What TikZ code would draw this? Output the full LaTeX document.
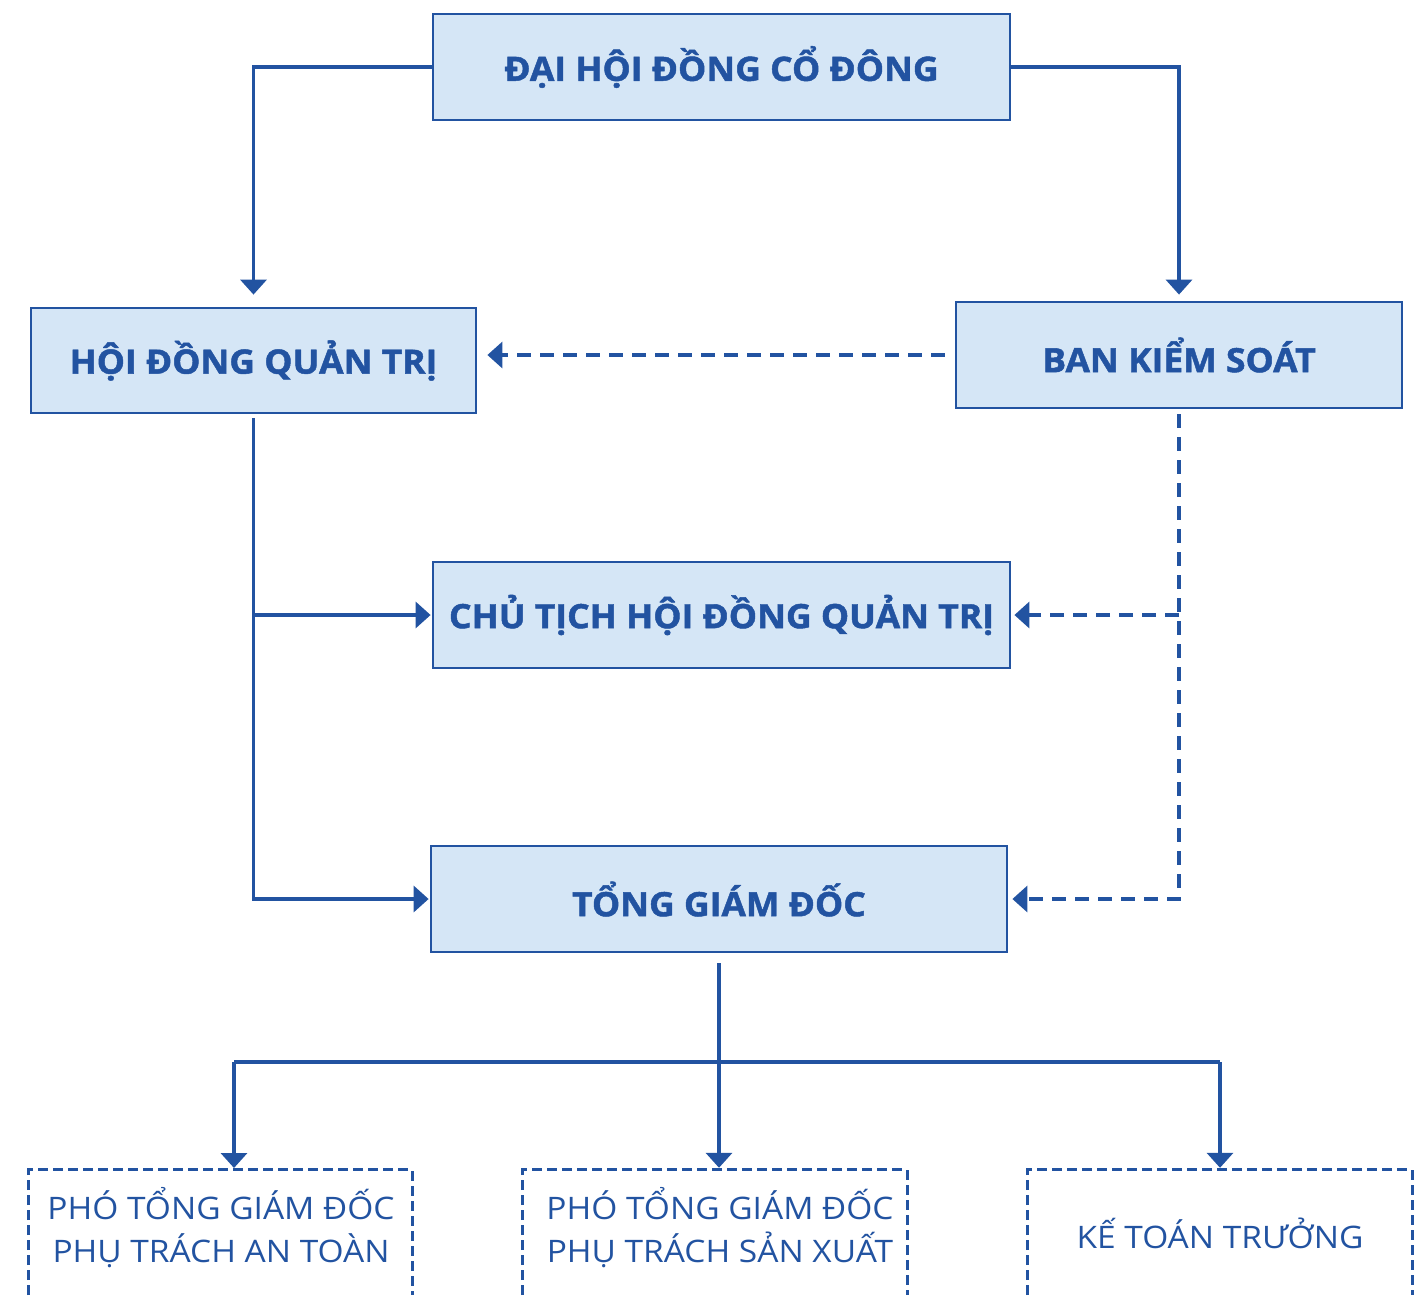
\documentclass[tikz,border=0pt]{standalone}
\usepackage{fontspec}
\setmainfont{Open Sans}
\newfontfamily\hfont{Open Sans}[FakeStretch=1.06,FakeBold=1.4]
\newfontfamily\rfont{Open Sans}[FakeStretch=1.08]
\usetikzlibrary{arrows.meta}
\definecolor{navy}{HTML}{2253A1}
\definecolor{boxfill}{HTML}{D5E6F6}
\begin{document}
\begin{tikzpicture}[x=1pt,y=-1pt,
  mainbox/.style={draw=navy, line width=2.8pt, fill=boxfill, inner sep=0pt,
    text=navy, font=\hfont\bfseries\fontsize{33.5}{40}\selectfont},
  subbox/.style={inner sep=0pt, text=navy, align=center,
    font=\rfont\fontsize{31}{43}\selectfont},
  dbox/.style={draw=navy, line width=2.8pt, dash pattern=on 10pt off 5pt},
  conn/.style={draw=navy, line width=3.5pt},
  dconn/.style={draw=navy, line width=3.5pt, dash pattern=on 14pt off 9pt},
  tip/.style={-{Triangle[width=26pt,length=15pt]}}
]
\useasboundingbox (0,0) rectangle (1420,1295);
\node[mainbox, minimum width=577pt, minimum height=106pt] (A) at (721.5,67) {ĐẠI HỘI ĐỒNG CỔ ĐÔNG};
\node[mainbox, minimum width=445pt, minimum height=105pt] (B) at (253.5,360.5) {HỘI ĐỒNG QUẢN TRỊ};
\node[mainbox, minimum width=446pt, minimum height=106pt] (C) at (1179,355) {BAN KIỂM SOÁT};
\node[mainbox, minimum width=577pt, minimum height=106pt] (D) at (721.5,615) {CHỦ TỊCH HỘI ĐỒNG QUẢN TRỊ};
\node[mainbox, minimum width=576pt, minimum height=106pt] (E) at (719,899) {TỔNG GIÁM ĐỐC};
\node[subbox, minimum width=383pt, minimum height=125pt] (F) at (220.5,1232.5) {};
\node[subbox, minimum width=384pt, minimum height=125pt] (G) at (715,1232.5) {};
\node[subbox, minimum width=384pt, minimum height=125pt] (H) at (1220,1232.5) {};
\node[subbox] (Ft) at (221,1228) {PHÓ TỔNG GIÁM ĐỐC\\PHỤ TRÁCH AN TOÀN};
\node[subbox] (Gt) at (720,1228) {PHÓ TỔNG GIÁM ĐỐC\\PHỤ TRÁCH SẢN XUẤT};
\node[subbox] (Ht) at (1220,1233) {KẾ TOÁN TRƯỞNG};
\foreach \n in {F,G,H}
  \draw[dbox] (\n.south west) -- (\n.north west) -- (\n.north east) -- (\n.south east);
% top connectors
\draw[conn,tip,shorten >=12pt] (A.west) -| (B.north);
\draw[conn,tip,shorten >=6pt] (A.east) -| (C.north);
\draw[dconn,tip,shorten <=10pt,shorten >=10pt] (C.west) -- (C.west -| B.east);
% board to chairman / CEO
\draw[conn,tip,shorten <=4pt,shorten >=1pt] (B.south) |- (E.west);
\draw[conn,tip,shorten >=1pt] (B.south |- D.west) -- (D.west);
% supervisory dashed
\draw[dconn,tip,shorten <=5pt,shorten >=4pt] (C.south) |- (E.east);
\draw[dconn,tip,shorten >=3pt] (C.south |- D.east) -- (D.east);
% CEO to deputies
\coordinate (bus) at (0,1062);
\coordinate (fx) at (234,1170);
\draw[conn,tip,shorten <=10pt,shorten >=2pt] (E.south) -- (E.south |- G.north);
\draw[conn] (fx |- bus) -- (H.north |- bus);
\draw[conn,tip,shorten >=2pt] (fx |- bus) -- (fx);
\draw[conn,tip,shorten >=2pt] (H.north |- bus) -- (H.north);
\end{tikzpicture}
\end{document}
